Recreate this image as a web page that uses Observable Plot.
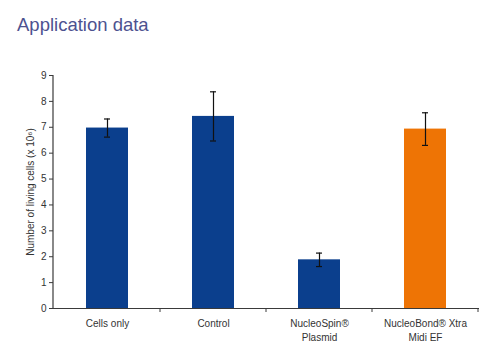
<!DOCTYPE html>
<html>
<head>
<meta charset="utf-8">
<script src="https://cdn.jsdelivr.net/npm/d3@7"></script>
<script src="https://cdn.jsdelivr.net/npm/@observablehq/plot@0.6"></script>
<style>
  body { margin: 0; background: #fff; font-family: "Liberation Sans", Arial, sans-serif; }
  #title { height: 50px; box-sizing: border-box; padding: 14px 0 0 17px; font-size: 18.5px; color: #4d5290; line-height: 22px; }
</style>
</head>
<body>
<div id="title">Application data</div>
<div id="chart"></div>
<script>
const categories = ["Cells only", "Control", "NucleoSpin® Plasmid", "NucleoBond® Xtra Midi EF"];
const tickLabels = ["Cells only", "Control", "NucleoSpin®\nPlasmid", "NucleoBond® Xtra\nMidi EF"];
const values = [6.97, 7.42, 1.88, 6.93];
const errors = [0.35, 0.95, 0.26, 0.63];
const colors = ["#0b3f8d", "#0b3f8d", "#0b3f8d", "#ee7405"];
const yTicks = [0, 1, 2, 3, 4, 5, 6, 7, 8, 9];

const data = categories.map((c, i) => ({
  cat: c, v: values[i], lo: values[i] - errors[i], hi: values[i] + errors[i], color: colors[i]
}));

function boundaryTicks(index, scales, values, dims) {
  const g = d3.create("svg:g");
  const x = scales.x, y = scales.y;
  const y0 = y(0);
  const half = (x.step() - x.bandwidth()) / 2;
  g.append("line")
    .attr("x1", dims.marginLeft).attr("x2", dims.marginLeft)
    .attr("y1", y(9)).attr("y2", y0)
    .attr("stroke", "#3a3a3a").attr("stroke-width", 1.2);
  for (const c of categories) {
    const bx = x(c) + x.bandwidth() + half;
    g.append("line")
      .attr("x1", bx).attr("x2", bx)
      .attr("y1", y0).attr("y2", y0 + 4)
      .attr("stroke", "#3a3a3a").attr("stroke-width", 1);
  }
  return g.node();
}

const chart = Plot.plot({
  width: 496,
  height: 304,
  marginLeft: 53,
  marginRight: 17,
  marginTop: 25,
  marginBottom: 46,
  style: { fontFamily: "'Liberation Sans', Arial, sans-serif", fontSize: "10px", color: "#333", background: "#fff" },
  x: { domain: categories, paddingInner: 0.6, paddingOuter: 0.3, label: null },
  y: { domain: [0, 9], label: null },
  marks: [
    Plot.barY(data, { x: "cat", y: "v", fill: "color" }),
    Plot.ruleX(data, { x: "cat", y1: "lo", y2: "hi", stroke: "#111", strokeWidth: 1.2 }),
    Plot.tickY(data, { x: "cat", y: "hi", stroke: "#111", strokeWidth: 1.2, insetLeft: 18, insetRight: 18 }),
    Plot.tickY(data, { x: "cat", y: "lo", stroke: "#111", strokeWidth: 1.2, insetLeft: 18, insetRight: 18 }),
    Plot.ruleY([0], { stroke: "#3a3a3a", strokeWidth: 1.2 }),
    boundaryTicks,
    Plot.axisY({ ticks: yTicks, tickSize: 4, tickPadding: 3, stroke: "#3a3a3a",
      label: "Number of living cells (x 10⁶)", labelAnchor: "center", labelArrow: "none", labelOffset: 27 }),
    Plot.axisX({ tickSize: 0, tickPadding: 9, lineHeight: 1.35,
      tickFormat: (d) => tickLabels[categories.indexOf(d)] })
  ]
});
document.getElementById("chart").appendChild(chart);
</script>
</body>
</html>
